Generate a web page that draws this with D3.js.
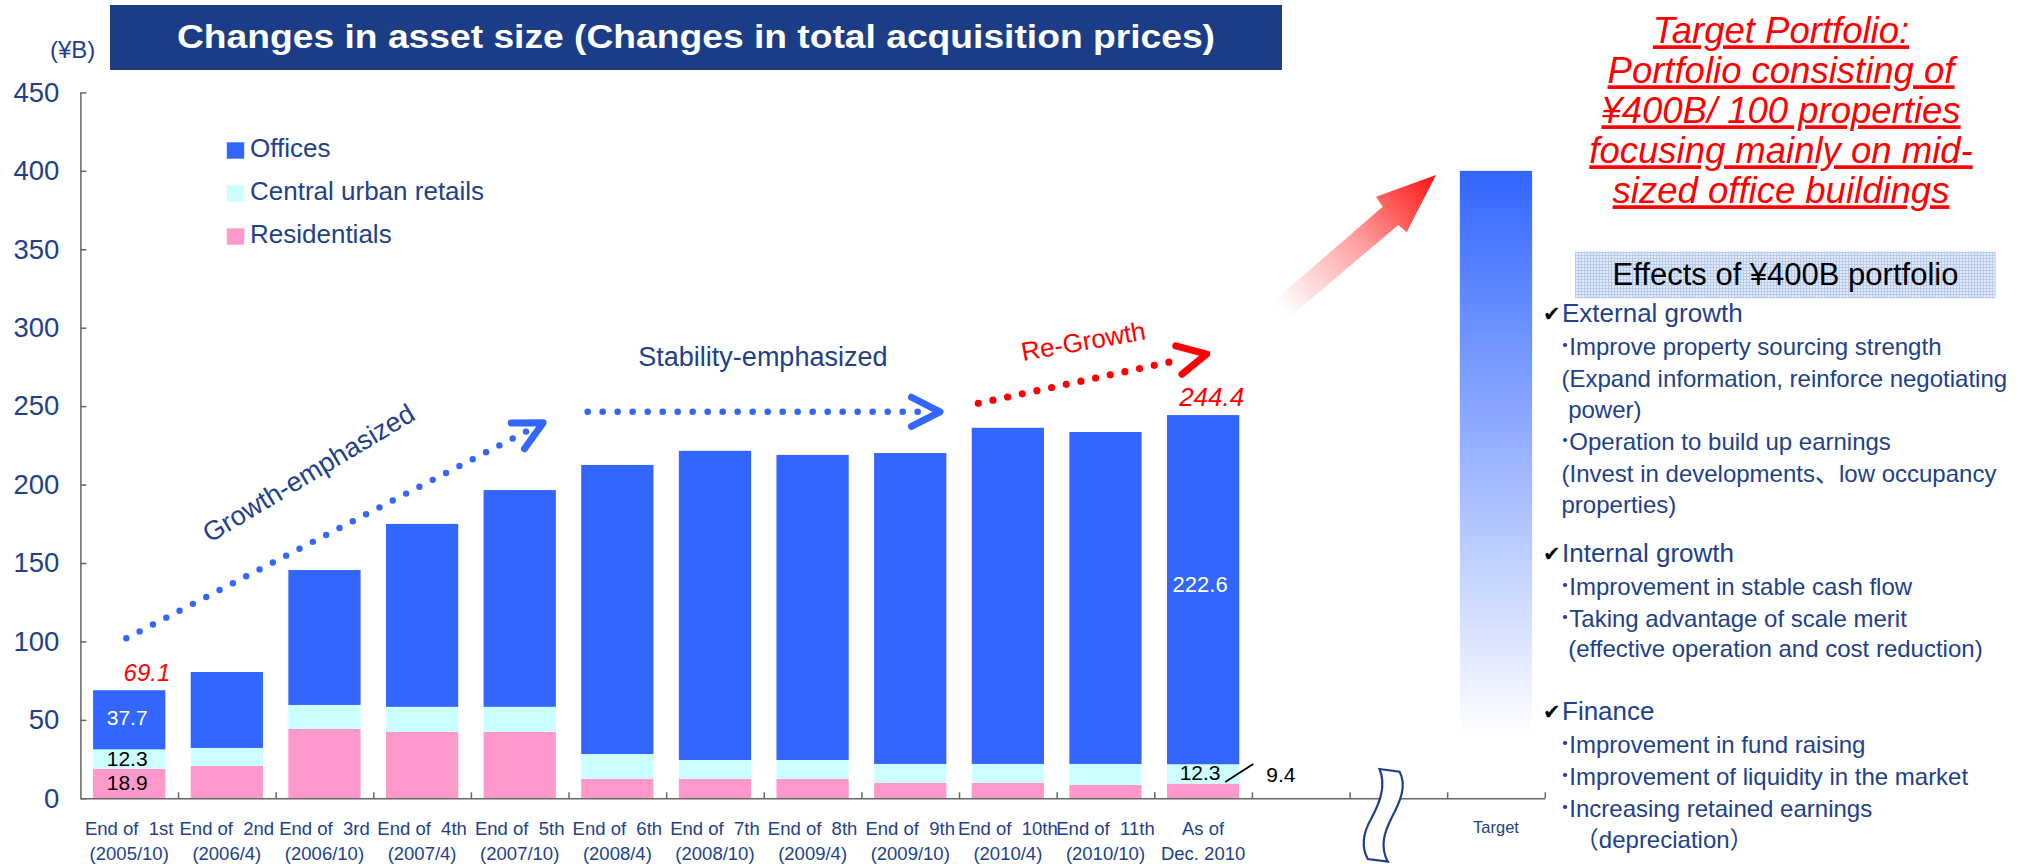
<!DOCTYPE html>
<html>
<head>
<meta charset="utf-8">
<script src="https://cdn.jsdelivr.net/npm/d3@7"></script>
<style>
  body { margin: 0; background: #fff; }
  text { font-family: "Liberation Sans", Arial, "Noto Sans CJK JP", sans-serif; }
</style>
</head>
<body>
<div id="chart"></div>
<script>
// ---- data (¥B) ----
const periods = ["End of  1st", "End of  2nd", "End of  3rd", "End of  4th", "End of  5th", "End of  6th",
                 "End of  7th", "End of  8th", "End of  9th", "End of  10th", "End of  11th", "As of"];
const periodDates = ["(2005/10)", "(2006/4)", "(2006/10)", "(2007/4)", "(2007/10)", "(2008/4)",
                     "(2008/10)", "(2009/4)", "(2009/10)", "(2010/4)", "(2010/10)", "Dec. 2010"];
const offices      = [37.7, 48.4, 86.0, 116.6, 138.2, 184.3, 197.1, 194.5, 198.2, 214.3, 211.6, 222.6];
const retails      = [12.3, 11.5, 15.3, 16.0, 16.0, 15.9, 12.1, 12.1, 12.1, 12.1, 13.4, 12.3];
const residentials = [18.9, 20.6, 44.2, 42.3, 42.3, 12.3, 12.3, 12.3, 9.8, 9.8, 8.5, 9.4];
const totalIdx  = [0, 11];
const totalText = ["69.1", "244.4"];
const targetValue = 400;
const yTicks = [0, 50, 100, 150, 200, 250, 300, 350, 400, 450];
const seriesNames  = ["Offices", "Central urban retails", "Residentials"];
const seriesColors = ["#3366FF", "#CCFFFF", "#FF99CC"];

const navy = "#213F8B";
const W = 2031, H = 864;

const svg = d3.select("#chart").append("svg")
    .attr("width", W).attr("height", H)
    .style("display", "block");

const defs = svg.append("defs");
const tg = defs.append("linearGradient").attr("id", "targetGrad")
    .attr("x1", 0).attr("y1", 0).attr("x2", 0).attr("y2", 1);
tg.append("stop").attr("offset", 0).attr("stop-color", "#3366FF");
tg.append("stop").attr("offset", 0.9).attr("stop-color", "#FFFFFF");

const pat = defs.append("pattern").attr("id", "dots")
    .attr("width", 3).attr("height", 3).attr("patternUnits", "userSpaceOnUse");
pat.append("rect").attr("width", 3).attr("height", 3).attr("fill", "#E4ECFA");
pat.append("rect").attr("width", 3).attr("height", 1).attr("fill", "#B6CBEF");
pat.append("rect").attr("width", 1).attr("height", 3).attr("fill", "#B6CBEF");

// ---- scales ----
const x0 = 80.4, x1 = 1544.8;
const x = d3.scaleBand().domain(d3.range(15)).range([x0, x1]).paddingInner(0.26).paddingOuter(0.13);
const xIdx = d3.scaleLinear().domain([0, 15]).range([x0, x1]);
const y = d3.scaleLinear().domain([0, 450]).range([798.3, 92.4]);
const P = (i, v) => [xIdx(i), y(v)];

// ---- title ----
svg.append("rect").attr("x", 110).attr("y", 5).attr("width", 1172).attr("height", 65).attr("fill", "#1B3D86");
svg.append("text").attr("x", 696).attr("y", 47.5).attr("text-anchor", "middle")
    .attr("fill", "#fff").style("font-weight", "bold").style("font-size", "33px")
    .attr("textLength", 1038).attr("lengthAdjust", "spacingAndGlyphs")
    .text("Changes in asset size (Changes in total acquisition prices)");
svg.append("text").attr("x", 50).attr("y", 58).attr("fill", navy).style("font-size", "24px").text("(¥B)");

// ---- stacked bars ----
const rows = offices.map((d, i) => ({ i, res: residentials[i], ret: retails[i], off: d }));
const stack = d3.stack().keys(["res", "ret", "off"])(rows);
const keyColor = { res: seriesColors[2], ret: seriesColors[1], off: seriesColors[0] };

svg.append("g").selectAll("g").data(stack).join("g")
    .attr("fill", s => keyColor[s.key])
  .selectAll("rect").data(s => s).join("rect")
    .attr("x", d => x(d.data.i))
    .attr("y", d => y(d[1]))
    .attr("width", x.bandwidth())
    .attr("height", d => y(d[0]) - y(d[1]));

// target bar
svg.append("rect")
    .attr("x", x(14)).attr("y", y(targetValue))
    .attr("width", x.bandwidth()).attr("height", y(0) - y(targetValue))
    .attr("fill", "url(#targetGrad)");

// ---- axes ----
const yAxis = svg.append("g").attr("transform", `translate(${x0},0)`)
    .call(d3.axisLeft(y).tickValues(yTicks).tickSizeInner(-6).tickSizeOuter(0).tickPadding(21));
yAxis.select(".domain").attr("stroke", "#666").attr("stroke-width", 1.5);
yAxis.selectAll(".tick line").attr("stroke", "#666").attr("stroke-width", 1.5);
yAxis.selectAll(".tick text").attr("fill", navy).style("font-size", "27.5px")
    .style("font-family", "'Liberation Sans', Arial, sans-serif");

const xAxis = svg.append("g").attr("transform", `translate(0,${y(0)})`)
    .call(d3.axisBottom(xIdx).tickValues(d3.range(1, 16)).tickSizeInner(-6).tickSizeOuter(0).tickFormat(""));
xAxis.select(".domain").attr("stroke", "#666").attr("stroke-width", 1.5);
xAxis.selectAll(".tick line").attr("stroke", "#666").attr("stroke-width", 1.5);

// category labels
const xl = svg.append("g").attr("fill", navy).style("font-size", "18.5px");
periods.forEach((p, i) => {
  const cx = x(i) + x.bandwidth() / 2;
  xl.append("text").attr("x", cx).attr("y", 835).attr("text-anchor", "middle")
      .style("white-space", "pre").text(p);
  xl.append("text").attr("x", cx).attr("y", 860).attr("text-anchor", "middle").text(periodDates[i]);
});
xl.append("text").attr("x", x(14) + x.bandwidth() / 2).attr("y", 833).attr("text-anchor", "middle")
    .style("font-size", "16.5px").text("Target");

// axis break symbol
const bx = xIdx(13.43);
svg.append("path")
    .attr("d", `M${bx - 12},769 L${bx + 8},771.7 C${bx + 16},786 ${bx + 8},803 ${bx},818 ` +
               `C${bx - 7},832 ${bx - 12},846 ${bx - 3.7},861.7 L${bx - 23.7},859 ` +
               `C${bx - 31},846 ${bx - 28},832 ${bx - 20},818 C${bx - 12},803 ${bx - 5},786 ${bx - 12},769 Z`)
    .attr("fill", "#fff").attr("stroke", "#1F3F8A").attr("stroke-width", 2.2);

// ---- value labels ----
const mid = (a, b) => (y(a) + y(b)) / 2;
const cx0 = x(0) + x.bandwidth() / 2, cx11 = x(11) + x.bandwidth() / 2;
const vl = svg.append("g").style("font-size", "21px").attr("text-anchor", "middle");
const r0 = residentials[0], t0 = r0 + retails[0], s0 = t0 + offices[0];
vl.append("text").attr("x", cx0 - 2).attr("y", mid(t0, s0) + 5).attr("fill", "#fff").text(offices[0].toFixed(1));
vl.append("text").attr("x", cx0 - 2).attr("y", mid(r0, t0) + 7).attr("fill", "#000").text(retails[0].toFixed(1));
vl.append("text").attr("x", cx0 - 2).attr("y", mid(0, r0) + 7).attr("fill", "#000").text(residentials[0].toFixed(1));
const r11 = residentials[11], t11 = r11 + retails[11], s11 = t11 + offices[11];
vl.append("text").attr("x", cx11 - 3).attr("y", mid(t11, s11) + 2).attr("fill", "#fff").style("font-size", "22px")
    .text(offices[11].toFixed(1));
vl.append("text").attr("x", cx11 - 3).attr("y", mid(r11, t11) + 6).attr("fill", "#000").text(retails[11].toFixed(1));
vl.append("text").attr("x", x(11) + x.bandwidth() + 27).attr("y", mid(r11, t11) + 8).attr("text-anchor", "start")
    .attr("fill", "#000").text(residentials[11].toFixed(1));
vl.append("line")
    .attr("x1", x(11) + x.bandwidth() - 14).attr("y1", mid(r11, t11) + 8)
    .attr("x2", x(11) + x.bandwidth() + 14).attr("y2", mid(r11, t11) - 10)
    .attr("stroke", "#000").attr("stroke-width", 1.8);

// totals
totalIdx.forEach((i, k) => {
  const tot = residentials[i] + retails[i] + offices[i];
  svg.append("text").attr("x", x(i) + x.bandwidth() + 5).attr("y", y(tot) - 9)
      .attr("text-anchor", "end").attr("fill", "#FF0000")
      .style("font-style", "italic").style("font-size", k ? "26px" : "24px").text(totalText[k]);
});

// ---- legend ----
const lg = svg.append("g");
seriesNames.forEach((n, k) => {
  lg.append("rect").attr("x", 226.8).attr("y", 142.3 + k * 43).attr("width", 17.4).attr("height", 16.4)
      .attr("fill", seriesColors[k]);
  lg.append("text").attr("x", 250).attr("y", 156.7 + k * 43).attr("fill", navy)
      .style("font-size", "26px").text(n);
});

// ---- dotted trend arrows ----
function dotted(start, tip, color, r, gap) {
  const dx = tip[0] - start[0], dy = tip[1] - start[1], L = Math.hypot(dx, dy);
  const ux = dx / L, uy = dy / L;
  svg.append("line")
      .attr("x1", start[0]).attr("y1", start[1])
      .attr("x2", start[0] + ux * (L - gap)).attr("y2", start[1] + uy * (L - gap))
      .attr("stroke", color).attr("stroke-width", 2 * r)
      .attr("stroke-linecap", "round").attr("stroke-dasharray", "0 15");
  const a = Math.atan2(-uy, -ux), th = 27 * Math.PI / 180, len = 32;
  const p1 = [tip[0] + len * Math.cos(a + th), tip[1] + len * Math.sin(a + th)];
  const p2 = [tip[0] + len * Math.cos(a - th), tip[1] + len * Math.sin(a - th)];
  svg.append("path").attr("d", `M${p1}L${tip}L${p2}`)
      .attr("fill", "none").attr("stroke", color).attr("stroke-width", 7)
      .attr("stroke-linecap", "round").attr("stroke-linejoin", "round");
}
dotted(P(0.47, 102), P(4.74, 239.4), "#3366FF", 3.2, 15);
dotted(P(5.196, 246.4), P(8.805, 246.4), "#3366FF", 3.3, 21.5);
dotted(P(9.197, 251.8), P(11.537, 283.2), "#FF0000", 3.6, 24);

const g1 = P(1.325, 162.6);
svg.append("text").attr("transform", `translate(${g1}) rotate(-31)`).attr("fill", navy)
    .style("font-size", "27px").text("Growth-emphasized");
const g2 = P(5.715, 275.6);
svg.append("text").attr("x", g2[0]).attr("y", g2[1]).attr("fill", navy)
    .style("font-size", "27px").text("Stability-emphasized");
const g3 = P(9.655, 278.8);
svg.append("text").attr("transform", `translate(${g3}) rotate(-10)`).attr("fill", "#FF0000")
    .style("font-size", "26px").text("Re-Growth");

// ---- big gradient arrow toward target ----
const ag = defs.append("linearGradient").attr("id", "arrowGrad").attr("gradientUnits", "userSpaceOnUse")
    .attr("x1", 1282).attr("y1", 309).attr("x2", 1436).attr("y2", 175);
ag.append("stop").attr("offset", 0).attr("stop-color", "#FFFFFF");
ag.append("stop").attr("offset", 0.5).attr("stop-color", "#FFA0A0");
ag.append("stop").attr("offset", 1).attr("stop-color", "#FF1010");
svg.append("polygon")
    .attr("points", [[1275, 300], [1382.7, 206.7], [1376, 196.7], [1436, 175], [1406.7, 232.3], [1398.3, 225], [1289.3, 317.3]].join(" "))
    .attr("fill", "url(#arrowGrad)");

// ---- target portfolio heading ----
const targetLines = ["Target Portfolio:", "Portfolio consisting of", "¥400B/ 100 properties",
                     "focusing mainly on mid-", "sized office buildings"];
targetLines.forEach((t, k) => {
  svg.append("text").attr("x", 1781).attr("y", 43.3 + k * 40).attr("text-anchor", "middle")
      .attr("fill", "#FF0000").style("font-style", "italic").style("font-size", "36.5px")
      .style("text-decoration", "underline").text(t);
});

// ---- effects panel ----
svg.append("rect").attr("x", 1575).attr("y", 251.7).attr("width", 420.7).attr("height", 46.6).attr("fill", "url(#dots)");
svg.append("text").attr("x", 1785.5).attr("y", 285).attr("text-anchor", "middle").attr("fill", "#000")
    .style("font-size", "31px").text("Effects of ¥400B portfolio");

const panelLines = [
  ["head", "External growth"],
  ["bullet", "Improve property sourcing strength"],
  ["plain", "(Expand information, reinforce negotiating"],
  ["plain", " power)"],
  ["bullet", "Operation to build up earnings"],
  ["plain", "(Invest in developments、low occupancy"],
  ["plain", "properties)"],
  ["head", "Internal growth"],
  ["bullet", "Improvement in stable cash flow"],
  ["bullet", "Taking advantage of scale merit"],
  ["plain", " (effective operation and cost reduction)"],
  ["head", "Finance"],
  ["bullet", "Improvement in fund raising"],
  ["bullet", "Improvement of liquidity in the market"],
  ["bullet", "Increasing retained earnings"],
  ["plain", "  （depreciation）"]
];
const panelY = [321.7, 355, 386.7, 418.3, 450, 481.7, 513.3, 561.7, 595, 626.7, 656.7, 720, 753.3, 785, 816.7, 848.3];
const pg = svg.append("g").attr("fill", navy);
panelLines.forEach(([kind, t], k) => {
  const yy = panelY[k];
  if (kind === "head") {
    pg.append("text").attr("x", 1543).attr("y", yy - 1).attr("fill", "#000")
        .style("font-family", "'DejaVu Sans', sans-serif").style("font-size", "21px")
        .style("font-weight", "bold").text("\u2714");
    pg.append("text").attr("x", 1562).attr("y", yy).style("font-size", "26px").text(t);
  } else if (kind === "bullet") {
    pg.append("text").attr("x", 1559).attr("y", yy - 1)
        .style("font-family", "'Noto Sans CJK JP', sans-serif").style("font-size", "24px").text("･");
    pg.append("text").attr("x", 1569.3).attr("y", yy).style("font-size", "24px").text(t);
  } else {
    pg.append("text").attr("x", 1561.5).attr("y", yy).style("font-size", "24px")
        .style("white-space", "pre").text(t);
  }
});
</script>
</body>
</html>
